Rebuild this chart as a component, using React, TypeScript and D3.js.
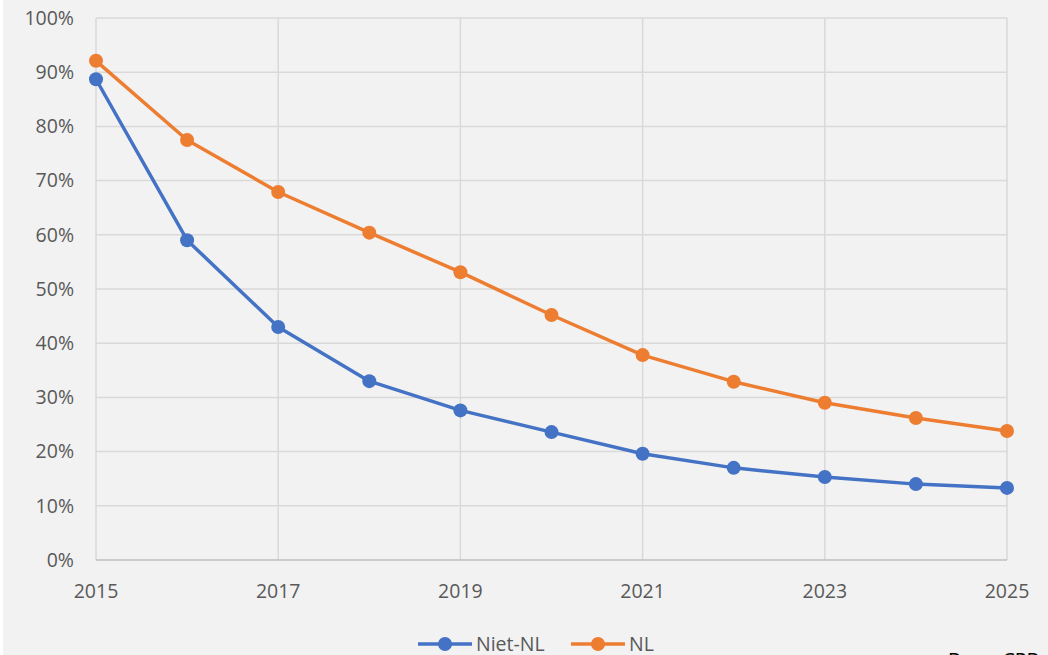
import React, { useRef, useEffect } from "react";
import * as d3 from "d3";

const years = [2015, 2016, 2017, 2018, 2019, 2020, 2021, 2022, 2023, 2024, 2025];
const nietNL = [88.7, 59.0, 43.0, 33.0, 27.6, 23.6, 19.6, 17.0, 15.3, 14.0, 13.3];
const nl = [92.1, 77.5, 67.9, 60.4, 53.1, 45.2, 37.8, 32.9, 29.0, 26.2, 23.8];
const xTicks = [2015, 2017, 2019, 2021, 2023, 2025];
const yTicks = [0, 10, 20, 30, 40, 50, 60, 70, 80, 90, 100];

const series = [
  { name: "Niet-NL", values: nietNL, color: "#4472c4" },
  { name: "NL", values: nl, color: "#ed7d31" },
];

const App = () => {
  const ref = useRef<SVGSVGElement>(null);

  useEffect(() => {
    const svg = d3.select(ref.current);
    svg.selectAll("*").remove();

    const font = "'Open Sans', 'Liberation Sans', sans-serif";
    const fs = 19.5;

    svg.append("rect")
      .attr("x", 3).attr("y", 0)
      .attr("width", 1045).attr("height", 655)
      .attr("fill", "#f2f2f2");

    const x = d3.scaleLinear().domain([2015, 2025]).range([96, 1007]);
    const y = d3.scaleLinear().domain([0, 100]).range([560, 18]);

    const g = svg.append("g");

    // horizontal grid
    g.selectAll(".hgrid")
      .data(yTicks.filter((t) => t > 0))
      .join("line")
      .attr("x1", x(2015)).attr("x2", x(2025))
      .attr("y1", (d) => y(d)).attr("y2", (d) => y(d))
      .attr("stroke", "#d9d9d9").attr("stroke-width", 1.5);

    // vertical grid
    g.selectAll(".vgrid")
      .data(xTicks)
      .join("line")
      .attr("x1", (d) => x(d)).attr("x2", (d) => x(d))
      .attr("y1", y(100)).attr("y2", y(0))
      .attr("stroke", "#d9d9d9").attr("stroke-width", 1.5);

    // x axis line
    g.append("line")
      .attr("x1", x(2015)).attr("x2", x(2025))
      .attr("y1", y(0)).attr("y2", y(0))
      .attr("stroke", "#bfbfbf").attr("stroke-width", 1.5);

    // y labels
    g.selectAll(".ylab")
      .data(yTicks)
      .join("text")
      .attr("x", 74)
      .attr("y", (d) => y(d))
      .attr("dy", "0.35em")
      .attr("text-anchor", "end")
      .attr("font-family", font)
      .attr("font-size", fs)
      .attr("fill", "#595959")
      .text((d) => d + "%");

    // x labels
    g.selectAll(".xlab")
      .data(xTicks)
      .join("text")
      .attr("x", (d) => x(d))
      .attr("y", 598)
      .attr("text-anchor", "middle")
      .attr("font-family", font)
      .attr("font-size", fs)
      .attr("fill", "#595959")
      .text((d) => d);

    const line = d3.line<number>()
      .x((_, i) => x(years[i]))
      .y((d) => y(d));

    series.forEach((s) => {
      g.append("path")
        .datum(s.values)
        .attr("d", line)
        .attr("fill", "none")
        .attr("stroke", s.color)
        .attr("stroke-width", 3.5)
        .attr("stroke-linejoin", "round");

      g.selectAll(null)
        .data(s.values)
        .join("circle")
        .attr("cx", (_, i) => x(years[i]))
        .attr("cy", (d) => y(d))
        .attr("r", 7)
        .attr("fill", s.color);
    });

    // legend
    const legendPos = [418, 571];
    series.forEach((s, i) => {
      const lx = legendPos[i];
      const ly = 644;
      g.append("line")
        .attr("x1", lx).attr("x2", lx + 54)
        .attr("y1", ly).attr("y2", ly)
        .attr("stroke", s.color).attr("stroke-width", 3.5);
      g.append("circle")
        .attr("cx", lx + 27).attr("cy", ly).attr("r", 7)
        .attr("fill", s.color);
      g.append("text")
        .attr("x", lx + 58)
        .attr("y", ly)
        .attr("dy", "0.35em")
        .attr("font-family", font)
        .attr("font-size", fs)
        .attr("fill", "#595959")
        .text(s.name);
    });

    // source note (cut off at the bottom, as in the original)
    g.append("text")
      .attr("x", 948)
      .attr("y", 667)
      .attr("font-family", font)
      .attr("font-size", fs)
      .attr("fill", "#000000")
      .text("Bron: CPB");
  }, []);

  return (
    <svg
      ref={ref}
      width={1048}
      height={655}
      style={{ position: "absolute", left: 0, top: 0, background: "#ffffff" }}
    ></svg>
  );
};

export default App;
